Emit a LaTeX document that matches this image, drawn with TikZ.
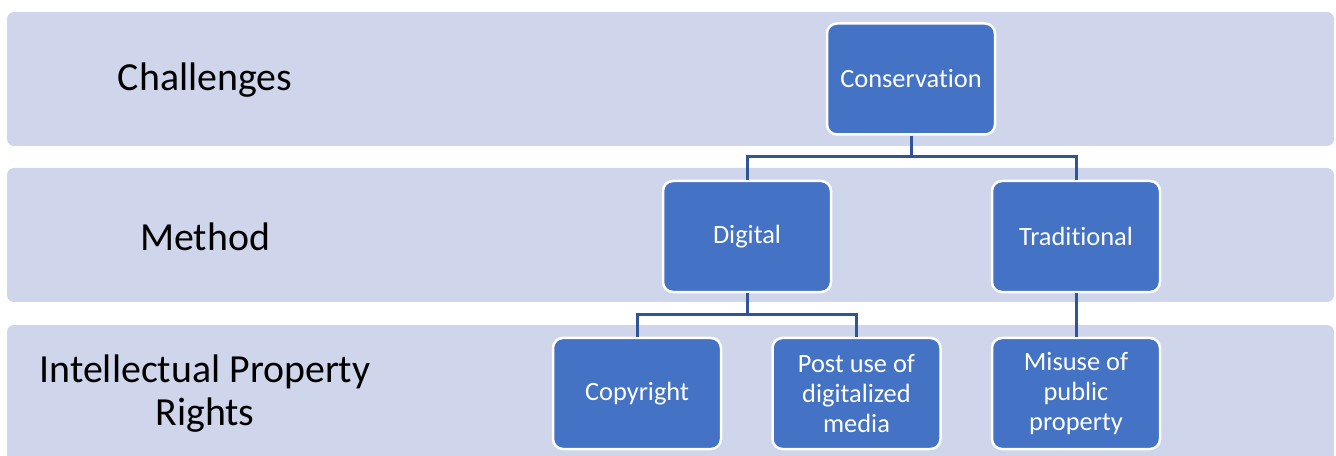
\documentclass[tikz,border=0pt]{standalone}
\usepackage{fontspec}
\setmainfont{Carlito}[Ligatures=NoCommon]
\usepackage{xcolor}
\usetikzlibrary{positioning}
\definecolor{bandfill}{HTML}{CFD5EA}
\definecolor{boxfill}{HTML}{4472C4}
\definecolor{linkcol}{HTML}{2F5597}
\tikzset{
  band/.style={fill=bandfill, draw=none, rounded corners=7bp},
  bandlabel/.style={font=\fontsize{40}{43}\selectfont, text=black, align=center},
  item/.style={fill=boxfill, draw=white, line width=2.5bp, rounded corners=10bp,
    minimum width=168bp, minimum height=111bp, inner sep=0pt,
    text=white, align=center, font=\fontsize{26.5}{29.8}\selectfont},
  link/.style={draw=linkcol, line width=3bp}
}
\begin{document}
\begin{tikzpicture}[x=1bp,y=-1bp]
\useasboundingbox (0,0) rectangle (1336,456);
\begin{scope}
\clip (0,0) rectangle (1336,456);
\fill[band] (7,12) rectangle (1334,146);
\fill[band] (7,168) rectangle (1334,302);
\fill[band] (7,325) rectangle (1334,470);
\end{scope}

\node[bandlabel] (lchal) at (205,80) {Challenges};
\node[bandlabel] (lmeth) at (205,237) {Method};
\node[bandlabel] (lipr) at (205,394) {Intellectual Property\\Rights};

\node[item] (cons) at (911,79) {Conservation};
\node[item] (dig) at (747,236.5) {Digital};
\node[item] (trad) at (1076,236.5) {Traditional};
\node[item] (copy) at (637,393.5) {Copyright};
\node[item] (post) at (856.5,393.5) {Post use of\\digitalized\\media};
\node[item] (misu) at (1076,393.5) {Misuse of\\public\\property};

\coordinate (j1) at (911,157);
\coordinate (j2) at (747,314);

\draw[link] (cons.south) -- (j1) -| (dig.north);
\draw[link] (j1) -| (trad.north);
\draw[link] (dig.south) -- (j2) -| (copy.north);
\draw[link] (j2) -| (post.north);
\draw[link] (trad.south) -- (misu.north);
\end{tikzpicture}
\end{document}
